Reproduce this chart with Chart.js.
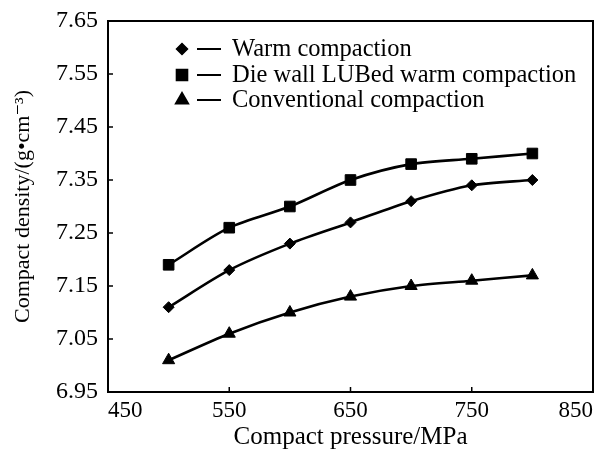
<!DOCTYPE html>
<html>
<head>
<meta charset="utf-8">
<script src="https://cdn.jsdelivr.net/npm/chart.js@4"></script>
<style>
  html, body { margin: 0; padding: 0; background: #fff; }
  #wrap { width: 606px; height: 457px; }
</style>
</head>
<body>
<div id="wrap"><canvas id="chart" width="606" height="457"></canvas></div>
<script>
const pressures = [500, 550, 600, 650, 700, 750, 800];
const warmCompaction = [7.11, 7.18, 7.23, 7.27, 7.31, 7.34, 7.35];
const dieWallWarm = [7.19, 7.26, 7.30, 7.35, 7.38, 7.39, 7.40];
const conventional = [7.01, 7.06, 7.10, 7.13, 7.15, 7.16, 7.17];
const seriesNames = ['Warm compaction', 'Die wall LUBed warm compaction', 'Conventional compaction'];
const xTicks = [450, 550, 650, 750, 850];
const yTicks = [6.95, 7.05, 7.15, 7.25, 7.35, 7.45, 7.55, 7.65];

const serif = '"Liberation Serif", "DejaVu Serif", serif';

function toPoints(values) {
    return pressures.map((p, i) => ({ x: p, y: values[i] }));
}

function makeSet(label, values, style, radius) {
    return {
        label: label,
        data: toPoints(values),
        borderColor: '#000',
        backgroundColor: '#000',
        borderWidth: 2.6,
        pointStyle: style,
        pointRadius: radius,
        pointBorderWidth: 1,
        tension: 0.3
    };
}

// box around the plot, inward tick marks and the in-plot legend
const framePlugin = {
    id: 'frame',
    afterDraw(chart) {
        const ctx = chart.ctx;
        const a = chart.chartArea;
        const xs = chart.scales.x;
        const ys = chart.scales.y;
        ctx.save();
        ctx.strokeStyle = '#000';
        ctx.lineWidth = 2;
        ctx.strokeRect(a.left, a.top, a.right - a.left, a.bottom - a.top);
        ctx.lineWidth = 1.5;
        ctx.beginPath();
        xTicks.forEach(v => {
            const px = xs.getPixelForValue(v);
            ctx.moveTo(px, a.bottom);
            ctx.lineTo(px, a.bottom - 5);
        });
        yTicks.forEach(v => {
            const py = ys.getPixelForValue(v);
            ctx.moveTo(a.left, py);
            ctx.lineTo(a.left + 5, py);
        });
        ctx.stroke();

        // legend
        const rows = [49, 75, 100];
        chart.data.datasets.forEach((ds, i) => {
            const y = rows[i];
            ctx.fillStyle = '#000';
            Chart.helpers.drawPoint(ctx, {
                pointStyle: ds.pointStyle,
                radius: ds.pointRadius,
                borderWidth: 1,
                rotation: 0
            }, 182, y);
            ctx.fill();
            ctx.lineWidth = 2;
            ctx.beginPath();
            ctx.moveTo(197, y);
            ctx.lineTo(221, y);
            ctx.stroke();
            ctx.font = '24.5px ' + serif;
            ctx.textBaseline = 'middle';
            ctx.textAlign = 'left';
            ctx.fillText(ds.label, 232, y + 1);
        });
        ctx.restore();
    }
};

new Chart(document.getElementById('chart').getContext('2d'), {
    type: 'line',
    data: {
        datasets: [
            makeSet(seriesNames[0], warmCompaction, 'rectRot', 5.5),
            makeSet(seriesNames[1], dieWallWarm, 'rect', 7.5),
            makeSet(seriesNames[2], conventional, 'triangle', 7)
        ]
    },
    options: {
        responsive: false,
        animation: false,
        layout: { padding: { top: 21, right: 13, left: 8, bottom: 4 } },
        plugins: {
            legend: { display: false },
            tooltip: { enabled: false }
        },
        scales: {
            x: {
                type: 'linear',
                min: 450,
                max: 850,
                afterBuildTicks: s => { s.ticks = xTicks.map(v => ({ value: v })); },
                afterFit: s => {
                    s.height = 61;
                    s.paddingLeft = 0;
                    s.paddingRight = 0;
                },
                grid: { display: false, drawTicks: false },
                border: { display: false },
                ticks: {
                    color: '#000',
                    padding: 5,
                    align: 'inner',
                    maxRotation: 0,
                    font: { family: serif, size: 23 }
                },
                title: {
                    display: true,
                    text: 'Compact pressure/MPa',
                    color: '#000',
                    padding: { top: 0, bottom: 1 },
                    font: { family: serif, size: 25 }
                }
            },
            y: {
                min: 6.95,
                max: 7.65,
                afterBuildTicks: s => { s.ticks = yTicks.map(v => ({ value: v })); },
                afterFit: s => {
                    s.width = 100;
                    s.paddingTop = 0;
                    s.paddingBottom = 0;
                },
                grid: { display: false, drawTicks: false },
                border: { display: false },
                ticks: {
                    color: '#000',
                    padding: 10,
                    font: { family: serif, size: 24 },
                    callback: v => v.toFixed(2)
                },
                title: {
                    display: true,
                    text: 'Compact density/(g\u2022cm\u207B\u00B3)',
                    color: '#000',
                    padding: { top: 2, bottom: 0 },
                    font: { family: serif, size: 22 }
                }
            }
        }
    },
    plugins: [framePlugin]
});
</script>
</body>
</html>
